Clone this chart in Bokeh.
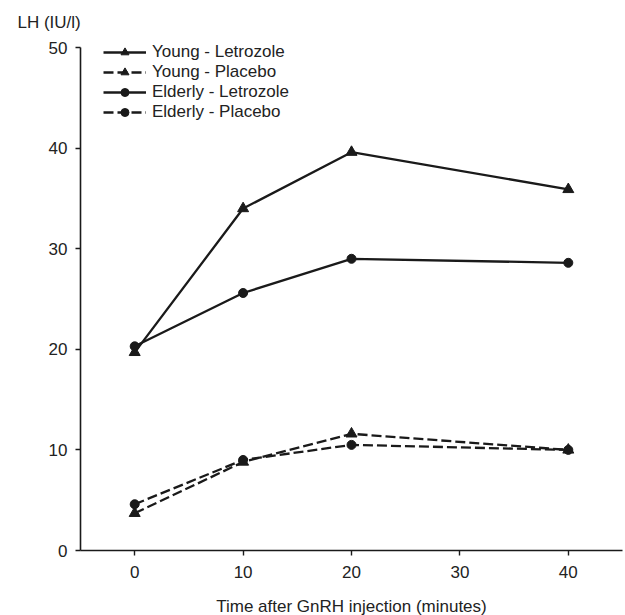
from bokeh.plotting import figure
from bokeh.models import Range1d, FixedTicker, Legend, LegendItem, Title
from bokeh.embed import file_html
from bokeh.resources import INLINE

# Data
time_min = [0, 10, 20, 40]
young_letrozole = [19.7, 34.0, 39.6, 35.9]
young_placebo = [3.7, 8.8, 11.6, 10.0]
elderly_letrozole = [20.3, 25.6, 29.0, 28.6]
elderly_placebo = [4.6, 9.0, 10.5, 10.0]
series_labels = ["Young - Letrozole", "Young - Placebo", "Elderly - Letrozole", "Elderly - Placebo"]
x_ticks = [0, 10, 20, 30, 40]
y_ticks = [0, 10, 20, 30, 40, 50]

FONT = "Liberation Sans"
INK = "#1a1a1a"
TXT = "#222222"

p = figure(
    frame_width=542, frame_height=513,
    min_border_left=80, min_border_top=37, min_border_right=3, min_border_bottom=65,
    x_range=Range1d(-5, 45), y_range=Range1d(0, 51),
    output_backend="svg", toolbar_location=None, tools="",
)
p.outline_line_color = None
p.xgrid.visible = False
p.ygrid.visible = False
p.background_fill_color = "white"
p.border_fill_color = "white"

for ax in (p.xaxis[0], p.yaxis[0]):
    ax.axis_line_color = INK
    ax.axis_line_width = 1.6
    ax.major_tick_line_color = INK
    ax.major_tick_line_width = 1.4
    ax.major_tick_in = 0
    ax.major_tick_out = 5
    ax.minor_tick_line_color = None
    ax.major_label_text_font = FONT
    ax.major_label_text_font_size = "17px"
    ax.major_label_text_color = TXT

p.yaxis.bounds = (0, 50)
p.xaxis.ticker = FixedTicker(ticks=x_ticks)
p.yaxis.ticker = FixedTicker(ticks=y_ticks)
p.xaxis.major_label_standoff = 10
p.yaxis.major_label_standoff = 8
p.xaxis.axis_label = "Time after GnRH injection (minutes)"
p.xaxis.axis_label_text_font = FONT
p.xaxis.axis_label_text_font_size = "17px"
p.xaxis.axis_label_text_font_style = "normal"
p.xaxis.axis_label_text_color = TXT
p.xaxis.axis_label_standoff = 16

series = [
    (young_letrozole, "solid", "triangle", 11),
    (young_placebo, "10 4", "triangle", 11),
    (elderly_letrozole, "solid", "circle", 9),
    (elderly_placebo, "10 4", "circle", 9),
]

items = []
for (vals, dash, marker, size), lab in zip(series, series_labels):
    ln = p.line(time_min, vals, line_color=INK, line_width=2.3, line_dash=dash)
    sc = p.scatter(time_min, vals, marker=marker, size=size, fill_color=INK, line_color=INK)
    items.append(LegendItem(label=lab, renderers=[ln, sc]))

legend = Legend(items=items, location=(23, 428))
legend.border_line_color = None
legend.background_fill_alpha = 0
legend.padding = 0
legend.margin = 0
legend.spacing = 0
legend.glyph_width = 43
legend.glyph_height = 20
legend.label_height = 20
legend.label_standoff = 6
legend.label_text_font = FONT
legend.label_text_font_size = "17px"
legend.label_text_color = TXT
p.add_layout(legend, "center")

ytitle = Title(text="LH (IU/l)", align="left", offset=-63, standoff=12,
               text_font=FONT, text_font_size="17px", text_font_style="normal",
               text_color=TXT)
p.add_layout(ytitle, "above")

open("out.html", "w").write(file_html(p, INLINE))
